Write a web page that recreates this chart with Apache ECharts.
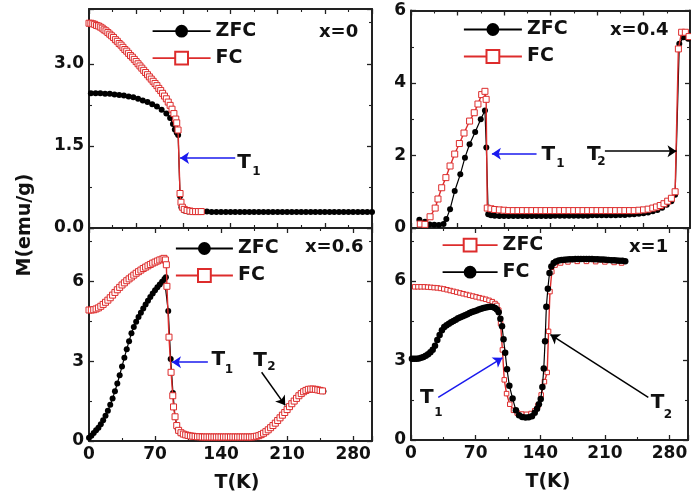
<!DOCTYPE html>
<html><head><meta charset="utf-8">
<script src="https://cdn.jsdelivr.net/npm/echarts@6/dist/echarts.min.js"></script>
<style>html,body{margin:0;padding:0;background:#fff}#c{width:691px;height:502px}</style>
</head><body><div id="c"></div>
<script>
// ---------- DATA ----------
// Panel x=0 (top-left)
const tlZfcT = [2,7,12,17,22,27,32,37,42,47,52,57,62,67,72,77,82,86,89,91,93,94.5,96.5,98,101,105,110,115,120,125,130,135,140,145,150,155,160,165,170,175,180,185,190,195,200,205,210,215,220,225,230,235,240,245,250,255,260,265,270,275,280,285,290,295,300];
const tlZfcM = [2.46,2.46,2.46,2.45,2.45,2.44,2.43,2.42,2.40,2.39,2.36,2.33,2.30,2.26,2.22,2.16,2.09,2.01,1.90,1.80,1.74,1.70,0.58,0.38,0.32,0.30,0.30,0.30,0.30,0.30,0.29,0.29,0.29,0.29,0.29,0.29,0.29,0.29,0.29,0.29,0.29,0.29,0.29,0.29,0.29,0.29,0.29,0.29,0.29,0.29,0.29,0.29,0.29,0.29,0.29,0.29,0.29,0.29,0.29,0.29,0.29,0.29,0.29,0.29,0.29];
const tlFcT = [0,2,4,6,8,10,12,14,16,18,20,22,24,26,28,30,32,34,36,38,40,42,44,46,48,50,52,54,56,58,60,62,64,66,68,70,72,74,76,78,80,82,84,86,88,90,92,93,94.4,96.5,97.5,99,101,104,107,110,113,116,119];
const tlFcM = [3.74,3.74,3.73,3.72,3.70,3.69,3.67,3.65,3.62,3.60,3.57,3.54,3.51,3.48,3.44,3.41,3.37,3.34,3.30,3.26,3.23,3.19,3.15,3.12,3.08,3.04,3.00,2.96,2.92,2.88,2.84,2.80,2.76,2.72,2.68,2.64,2.60,2.55,2.51,2.46,2.41,2.36,2.30,2.24,2.17,2.09,1.99,1.92,1.79,0.63,0.47,0.38,0.34,0.32,0.31,0.30,0.30,0.30,0.30];

// Panel x=0.4 (top-right)
const trZfcT = [9,15,20,25,30,35,38,42,47,53,58,63,69,75,79.5,81,83,86,90,95,100,105,110,115,120,125,130,135,140,145,150,155,160,165,170,175,180,185,190,195,200,205,210,215,220,225,230,235,240,245,250,255,260,265,270,275,280,284,288.5,293,298];
const trZfcM = [0.23,0.17,0.10,0.09,0.08,0.11,0.25,0.52,1.02,1.48,1.94,2.31,2.65,3.00,3.24,2.22,0.38,0.35,0.34,0.33,0.33,0.33,0.33,0.33,0.33,0.33,0.33,0.33,0.33,0.33,0.33,0.34,0.34,0.34,0.34,0.34,0.34,0.34,0.34,0.35,0.35,0.35,0.35,0.35,0.35,0.36,0.36,0.37,0.38,0.39,0.41,0.43,0.46,0.50,0.56,0.64,0.74,0.92,5.08,5.26,5.22];
const trFcT = [10,15,20.5,26,29,33,37.5,42,47,52,57,63,68,72,76,79.5,80.8,82,86,90,95,100,105,110,115,120,125,130,135,140,145,150,155,160,165,170,175,180,185,190,195,200,205,210,215,220,225,230,235,240,245,250,255,260,264,268,272,276,280,284,287.5,291,295,299];
const trFcM = [0.11,0.10,0.31,0.55,0.80,1.11,1.39,1.71,2.04,2.33,2.62,2.95,3.18,3.42,3.68,3.77,3.55,0.55,0.53,0.51,0.50,0.49,0.48,0.48,0.48,0.48,0.48,0.48,0.48,0.48,0.48,0.48,0.48,0.48,0.48,0.48,0.48,0.48,0.48,0.48,0.48,0.48,0.48,0.48,0.48,0.48,0.48,0.48,0.48,0.48,0.49,0.50,0.52,0.55,0.58,0.62,0.67,0.74,0.82,1.00,4.94,5.40,5.40,5.28];

// Panel x=0.6 (bottom-left)
const blZfcT = [0,2.5,5,7.5,10,12.5,15,17.5,20,22.5,25,27.5,30,32.5,35,37.5,40,42.5,45,47.5,50,52.5,55,57.5,60,62.5,65,67.5,70,72.5,75,77.5,80,81.5,84,86.6,89,91.2,94,97,100,105,110,120,140,160,175,180,185,190,195,200,205,210,215,220,225,230,235,240,248.5];
const blZfcM = [0.12,0.20,0.30,0.40,0.50,0.63,0.78,0.95,1.14,1.36,1.60,1.87,2.16,2.47,2.80,3.13,3.45,3.75,4.05,4.28,4.48,4.66,4.82,4.98,5.13,5.27,5.41,5.54,5.66,5.77,5.88,5.98,6.08,6.15,4.88,3.08,1.80,0.90,0.45,0.30,0.25,0.20,0.17,0.15,0.15,0.15,0.16,0.20,0.29,0.42,0.58,0.77,0.97,1.18,1.40,1.60,1.78,1.90,1.95,1.94,1.87];
const blFcT = [0,2.5,5,7.5,10,12.5,15,17.5,20,22.5,25,27.5,30,32.5,35,37.5,40,42.5,45,47.5,50,52.5,55,57.5,60,62.5,65,67.5,70,72.5,75,77.5,79.5,81,82,82.6,84.8,87,88.8,89.6,91.2,93,95,97.5,100,102.5,105,107.5,110,112.5,115,117.5,120,122.5,125,127.5,130,132.5,135,137.5,140,142.5,145,147.5,150,152.5,155,157.5,160,162.5,165,167.5,170,172.5,175,177.5,180,182.5,185,187.5,190,192.5,195,197.5,200,202.5,205,207.5,210,212.5,215,217.5,220,222.5,225,227.5,230,232.5,235,237.5,240,242.5,245,247.5];
const blFcM = [4.92,4.92,4.93,4.96,5.00,5.06,5.13,5.21,5.29,5.38,5.48,5.58,5.68,5.77,5.86,5.94,6.02,6.09,6.16,6.23,6.30,6.36,6.42,6.48,6.53,6.58,6.63,6.68,6.72,6.76,6.80,6.83,6.86,6.80,6.62,5.81,3.90,2.58,1.70,1.28,0.91,0.58,0.40,0.31,0.26,0.23,0.21,0.19,0.18,0.17,0.16,0.16,0.15,0.15,0.15,0.15,0.15,0.15,0.15,0.15,0.15,0.15,0.15,0.15,0.15,0.15,0.15,0.15,0.15,0.15,0.15,0.15,0.15,0.15,0.16,0.18,0.20,0.24,0.29,0.35,0.42,0.50,0.58,0.67,0.77,0.87,0.97,1.07,1.18,1.29,1.40,1.50,1.60,1.70,1.78,1.85,1.90,1.94,1.95,1.95,1.94,1.92,1.90,1.88];

// Panel x=1 (bottom-right): legend "ZFC" = red squares, "FC" = black circles
const brZfcT = [4,7.5,11,14.5,18,21.5,25,28.5,32,35.5,39,42.5,46,49.5,53,56.5,60,63.5,67,70.5,74,77.5,81,84.5,88,91,93,95,97,99,101,103.5,107,111,115,120,125,130,134,137.5,141,144.5,147.5,149,150.5,152.5,156,162,170,180,190,200,210,220,228];
const brZfcM = [5.78,5.78,5.78,5.78,5.77,5.76,5.75,5.74,5.72,5.70,5.67,5.64,5.61,5.58,5.55,5.52,5.49,5.46,5.43,5.40,5.37,5.34,5.31,5.27,5.22,5.15,5.08,4.90,4.40,3.40,2.27,1.75,1.35,1.12,1.02,0.98,0.97,1.00,1.10,1.30,1.70,2.20,2.55,4.10,5.60,6.35,6.60,6.68,6.72,6.74,6.74,6.73,6.72,6.70,6.68];
const brFcT = [1,3.5,6,8.5,11,13.5,16,18.5,21,23.5,26,28.5,31,33.5,36,38.5,41,43.5,46,48.5,51,53.5,56,58.5,61,63.5,66,68.5,71,73.5,76,78.5,81,83.5,86,88.5,91,93,95,96.8,98.6,100.2,102,104,106.5,110,113.6,117,120.5,124,127.5,131,134,136.5,138.5,140.5,142.3,143.8,145.2,146.6,148.2,150,152,154.5,157,160,163,166,169,172,175,178,181,184,187,190,193,196,199,202,205,208,211,214,217,220,223,226,229,232];
const brFcM = [3.07,3.07,3.07,3.08,3.10,3.13,3.18,3.24,3.31,3.41,3.56,3.77,3.96,4.14,4.26,4.33,4.39,4.44,4.49,4.54,4.59,4.63,4.67,4.71,4.75,4.79,4.83,4.86,4.89,4.92,4.95,4.98,5.00,5.02,5.03,5.02,4.98,4.92,4.82,4.58,4.29,3.80,3.29,2.67,2.05,1.57,1.12,0.93,0.87,0.85,0.86,0.90,1.03,1.18,1.35,1.55,2.00,2.70,3.73,5.03,5.71,6.30,6.55,6.68,6.74,6.77,6.79,6.80,6.81,6.82,6.82,6.83,6.83,6.83,6.83,6.83,6.83,6.83,6.82,6.82,6.81,6.81,6.80,6.79,6.78,6.78,6.77,6.76,6.76,6.75];

// Axis settings / tick labels
const panelLabels = ['x=0', 'x=0.4', 'x=0.6', 'x=1'];
const yMaxes = [4, 6, 8, 8];
const yIntervals = [1.5, 2, 3, 3];
const yDecimals = [1, 0, 0, 0];
const xIntervals = [50, 50, 70, 70];
const xTitle = 'T(K)';
const yTitle = 'M(emu/g)';

// Annotation arrows (data coordinates: [start], [end/arrowhead])
const arrowsT1 = [[[155,1.28],[96.5,1.28]], [[135,2.05],[87,2.05]], [[126,2.96],[88,2.96]], [[29.5,1.61],[99,3.10]]];
const arrowsT2 = [null, [[208.5,2.12],[285.5,2.12]], [[183,2.58],[208,1.34]], [[257,1.61],[151,3.98]]];

// ---------- CHART ----------
const FONT = '"DejaVu Sans", "Liberation Sans", Arial, sans-serif';
const AX = '#222';
const RED = '#dd2c2c';
const BLUE = '#1a1aee';
const pts = (T, M) => T.map((t, i) => [t, M[i]]);

const grids = [
  {left: 89, top: 9, width: 283, height: 219},
  {left: 411, top: 10.5, width: 279, height: 217.5},
  {left: 89, top: 228, width: 283, height: 213},
  {left: 411, top: 228, width: 279, height: 212}
];

const xAxes = [], yAxes = [];
for (let g = 0; g < 4; g++) {
  for (const pos of ['bottom', 'top']) {
    const showLab = pos === 'bottom' && g >= 2;
    const iv = xIntervals[g];
    xAxes.push({
      type: 'value', gridIndex: g, position: pos, min: 0, max: 300, interval: iv,
      axisLine: {show: true, onZero: false, lineStyle: {color: AX, width: 2}},
      axisTick: {show: true, inside: true, length: 5, lineStyle: {color: AX, width: 1.3}},
      minorTick: {show: true, splitNumber: 2, length: 3, lineStyle: {color: AX, width: 1.1}},
      splitLine: {show: false}, minorSplitLine: {show: false},
      axisLabel: {show: showLab, margin: 5, fontSize: 17, fontWeight: 'bold', color: '#111', fontFamily: FONT,
        formatter: v => (Math.abs(v / iv - Math.round(v / iv)) < 1e-6 ? String(v) : '')}
    });
  }
  for (const pos of ['left', 'right']) {
    const iv = yIntervals[g], dec = yDecimals[g];
    yAxes.push({
      type: 'value', gridIndex: g, position: pos, min: 0, max: yMaxes[g], interval: iv,
      axisLine: {show: true, onZero: false, lineStyle: {color: AX, width: 2}},
      axisTick: {show: true, inside: true, length: 5, lineStyle: {color: AX, width: 1.3}},
      minorTick: {show: true, splitNumber: 2, length: 3, lineStyle: {color: AX, width: 1.1}},
      splitLine: {show: false}, minorSplitLine: {show: false},
      axisLabel: {show: pos === 'left', margin: 5, fontSize: 17, fontWeight: 'bold',
        color: '#111', fontFamily: FONT,
        formatter: v => (Math.abs(v / iv - Math.round(v / iv)) < 1e-6 ? v.toFixed(dec) : '')}
    });
  }
}

function blackSeries(name, g, T, M, size, z) {
  return {
    name, type: 'line', xAxisIndex: 2 * g, yAxisIndex: 2 * g, z, silent: true,
    data: pts(T, M), symbol: 'circle', symbolSize: size, showSymbol: true,
    itemStyle: {color: '#000', borderColor: '#000', borderWidth: 0},
    lineStyle: {color: '#000', width: 1.2}, emphasis: {disabled: true}
  };
}
function redSeries(name, g, T, M, size, z) {
  return {
    name, type: 'line', xAxisIndex: 2 * g, yAxisIndex: 2 * g, z, silent: true,
    data: pts(T, M), symbol: 'rect', symbolSize: size, showSymbol: true,
    itemStyle: {color: '#fff', borderColor: RED, borderWidth: 1},
    lineStyle: {color: RED, width: 1.4}, emphasis: {disabled: true}
  };
}
function arrow(a, color) {
  return {
    silent: true, symbol: ['none', 'arrow'], symbolSize: 9, animation: false,
    label: {show: false}, emphasis: {disabled: true},
    lineStyle: {color, width: 1.5, type: 'solid'},
    data: [[{coord: a[0]}, {coord: a[1]}]]
  };
}

const series = [];
let s;
// TL
series.push(blackSeries('ZFC_0', 0, tlZfcT, tlZfcM, 6, 2));
s = redSeries('FC_0', 0, tlFcT, tlFcM, 6, 3); s.markLine = arrow(arrowsT1[0], BLUE); series.push(s);
// TR
s = blackSeries('ZFC_1', 1, trZfcT, trZfcM, 6, 2); s.markLine = arrow(arrowsT2[1], '#000'); series.push(s);
s = redSeries('FC_1', 1, trFcT, trFcM, 6, 3); s.markLine = arrow(arrowsT1[1], BLUE); series.push(s);
// BL
s = blackSeries('ZFC_2', 2, blZfcT, blZfcM, 6, 2); s.markLine = arrow(arrowsT2[2], '#000'); series.push(s);
s = redSeries('FC_2', 2, blFcT, blFcM, 6, 3); s.markLine = arrow(arrowsT1[2], BLUE); series.push(s);
// BR
s = redSeries('ZFC_3', 3, brZfcT, brZfcM, 4.5, 2); s.markLine = arrow(arrowsT2[3], '#000'); series.push(s);
s = blackSeries('FC_3', 3, brFcT, brFcM, 6.5, 3); s.markLine = arrow(arrowsT1[3], BLUE); series.push(s);

function legend(g, left, top, w, gap) {
  return {
    data: ['ZFC_' + g, 'FC_' + g],
    orient: 'vertical', left, top, padding: 0, itemWidth: w, itemHeight: 16, itemGap: gap,
    selectedMode: false, formatter: n => n.split('_')[0],
    lineStyle: {width: 1.8},
    textStyle: {fontSize: 19, fontWeight: 'bold', color: '#111', fontFamily: FONT}
  };
}

function txt(x, y, text, size, align, rot) {
  return {type: 'text', x, y, rotation: rot || 0, silent: true,
    style: {text, fill: '#111', font: 'bold ' + size + 'px ' + FONT, align: align || 'center', verticalAlign: 'middle'}};
}

const graphic = [
  txt(25, 225, yTitle, 19, 'center', Math.PI / 2),
  txt(237, 483, xTitle, 19),
  txt(548, 482, xTitle, 19),
  txt(319, 32, panelLabels[0], 18, 'left'),
  txt(610, 30, panelLabels[1], 18, 'left'),
  txt(305, 247, panelLabels[2], 18, 'left'),
  txt(629, 247, panelLabels[3], 18, 'left'),
  // T1 / T2 labels
  txt(244, 162.5, 'T', 20), txt(256.5, 172, '1', 12),
  txt(548.3, 155, 'T', 20), txt(560.5, 164, '1', 12),
  txt(593.7, 155, 'T', 20), txt(601.5, 162, '2', 12),
  txt(218.3, 359.5, 'T', 20), txt(229, 370, '1', 12),
  txt(260, 360.5, 'T', 20), txt(271.5, 367, '2', 12),
  txt(426.7, 397.5, 'T', 20), txt(438.5, 413, '1', 12),
  txt(657.5, 402.5, 'T', 20), txt(668, 415, '2', 12)
];

const chart = echarts.init(document.getElementById('c'), null, {renderer: 'canvas'});
chart.setOption({
  animation: false,
  backgroundColor: '#fff',
  grid: grids,
  xAxis: xAxes,
  yAxis: yAxes,
  legend: [legend(0, 151.7, 21.7, 58, 8), legend(1, 463, 20, 58, 8), legend(2, 175, 239, 57, 8), legend(3, 441.7, 235.7, 55, 8)],
  series,
  graphic
});
</script></body></html>
